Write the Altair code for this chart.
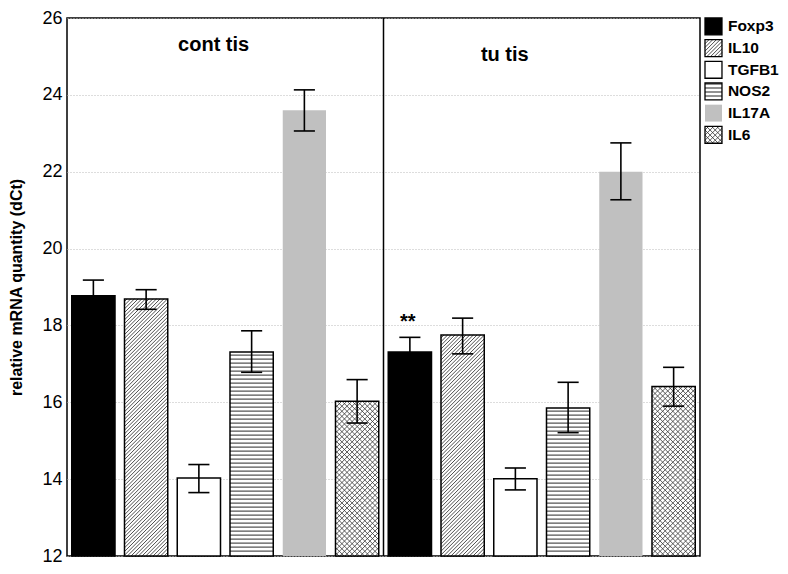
import math
import altair as alt
import pandas as pd

# ---------------- data ----------------
genes = ["Foxp3", "IL10", "TGFB1", "NOS2", "IL17A", "IL6"]
groups = ["cont tis", "tu tis"]
cont_mean = [18.77, 18.69, 14.03, 17.31, 23.60, 16.03]
cont_hi = [19.18, 18.93, 14.38, 17.86, 24.13, 16.59]
cont_lo = [18.36, 18.42, 13.65, 16.78, 23.06, 15.46]
tu_mean = [17.31, 17.75, 14.01, 15.85, 22.00, 16.41]
tu_hi = [17.69, 18.19, 14.29, 16.52, 22.75, 16.91]
tu_lo = [16.93, 17.26, 13.72, 15.21, 21.27, 15.90]
fills = ["#000000", "#ffffff", "#ffffff", "#ffffff", "#c0c0c0", "#ffffff"]
patterns = ["none", "diag", "none", "horiz", "none", "cross"]
y_ticks = [12, 14, 16, 18, 20, 22, 24, 26]
ann_text = ["cont tis", "tu tis", "**"]
ann_x = [2.78, 8.30, 6.46]
ann_y = [25.15, 24.89, 17.94]
divider_x = [6]

# ---------------- layout ----------------
W, H = 633, 538
Y_MIN, Y_MAX = 12, 26
N_SLOTS = len(genes) * len(groups)
SX = W / N_SLOTS
SY = H / (Y_MAX - Y_MIN)
LW, LH = 73, 130
LSX = LW / 4.3
LSY = -LH / len(genes)  # reversed y scale in the legend

FONT = "Liberation Sans"


def hatch(x0, x1, y0, y1, sx, sy, kind, gap):
    """Hatch segments clipped to a rectangle, computed in pixel space."""
    X0, X1 = sorted((x0 * sx, x1 * sx))
    Y0, Y1 = sorted((y0 * sy, y1 * sy))
    segs = []
    if kind == "horiz":
        Y = math.ceil(Y0 / gap) * gap + gap / 2
        while Y < Y1:
            segs.append((X0, Y, X1, Y))
            Y += gap
    if kind in ("diag", "cross"):
        d = gap * math.sqrt(2)
        c = math.ceil((X0 - Y1) / d) * d
        while c < X1 - Y0:
            lo, hi = max(X0, Y0 + c), min(X1, Y1 + c)
            if hi > lo:
                segs.append((lo, lo - c, hi, hi - c))
            c += d
    if kind == "cross":
        d = gap * math.sqrt(2)
        c = math.ceil((X0 + Y0) / d) * d
        while c < X1 + Y1:
            lo, hi = max(X0, c - Y1), min(X1, c - Y0)
            if hi > lo:
                segs.append((lo, c - lo, hi, c - hi))
            c += d
    return [(a / sx, b / sy, e / sx, f / sy) for a, b, e, f in segs]


GAPS = {"diag": 2.6, "horiz": 4.0, "cross": 3.6}

rows, hrows = [], []
for gi, (means, his, los) in enumerate(
    [(cont_mean, cont_hi, cont_lo), (tu_mean, tu_hi, tu_lo)]
):
    for i, g in enumerate(genes):
        pos = gi * len(genes) + i
        x0, x1, c = pos + 0.09, pos + 0.91, pos + 0.5
        rows.append(
            dict(group=groups[gi], gene=g, x0=x0, x1=x1, xc=c,
                 cl=c - 0.2, cr=c + 0.2, mean=means[i], hi=his[i], lo=los[i])
        )
        if patterns[i] != "none":
            for a, b, e, f in hatch(x0, x1, Y_MIN, means[i], SX, SY,
                                    patterns[i], GAPS[patterns[i]]):
                hrows.append(dict(kind=patterns[i], hx=a, hy=b, hx2=e, hy2=f))

df = pd.DataFrame(rows)
hdf = pd.DataFrame(hrows)
ann = pd.DataFrame(dict(text=ann_text, x=ann_x, y=ann_y))
div = pd.DataFrame(dict(x=divider_x))

xs = alt.Scale(domain=[0, N_SLOTS], nice=False, zero=False)
ys = alt.Scale(domain=[Y_MIN, Y_MAX], nice=False, zero=False)

yaxis = alt.Axis(
    values=y_ticks, grid=True, gridDash=[1, 2], gridColor="#bbbbbb",
    ticks=False, domain=False, labelFontSize=18, labelFont=FONT,
    labelColor="black", labelPadding=5,
    title="relative mRNA quantity (dCt)", titleFont=FONT, titleFontSize=16,
    titleFontWeight="bold", titleColor="black", titlePadding=17,
)


def X(field):
    return alt.X(field, type="quantitative", scale=xs, axis=None)


def Y(field):
    return alt.Y(field, type="quantitative", scale=ys, axis=yaxis)


base = alt.Chart(df)

bars = base.mark_rect().encode(
    x=X("x0"), x2="x1", y=Y("mean"), y2=alt.datum(Y_MIN),
    fill=alt.Fill("gene:N", scale=alt.Scale(domain=genes, range=fills), legend=None),
)


def hatch_layer(data, kind, color, width):
    return alt.Chart(data[data["kind"] == kind]).mark_rule(
        color=color, strokeWidth=width, strokeCap="butt"
    ).encode(x=X("hx"), x2="hx2", y=Y("hy"), y2="hy2")


h_diag = hatch_layer(hdf, "diag", "#3a3a3a", 0.9)
h_horiz = hatch_layer(hdf, "horiz", "#555555", 1.4)
h_cross = hatch_layer(hdf, "cross", "#333333", 0.8)

outline = base.transform_filter(alt.datum.gene != "IL17A").mark_rect(
    fillOpacity=0, stroke="black", strokeWidth=1.5
).encode(x=X("x0"), x2="x1", y=Y("mean"), y2=alt.datum(Y_MIN))

err = base.mark_rule(color="black", strokeWidth=1.6).encode(
    x=X("xc"), y=Y("lo"), y2="hi"
)
cap_hi = base.mark_rule(color="black", strokeWidth=1.6).encode(
    x=X("cl"), x2="cr", y=Y("hi")
)
cap_lo = base.mark_rule(color="black", strokeWidth=1.6).encode(
    x=X("cl"), x2="cr", y=Y("lo")
)

divider = alt.Chart(div).mark_rule(color="black", strokeWidth=1.5).encode(
    x=X("x"), y=alt.datum(Y_MIN, scale=ys, axis=yaxis), y2=alt.datum(Y_MAX)
)

labels = alt.Chart(ann).mark_text(
    font=FONT, fontSize=20, fontWeight="bold", color="black",
    align="center", baseline="alphabetic",
).encode(x=X("x"), y=Y("y"), text="text:N")

main = alt.layer(
    bars, h_diag, h_horiz, h_cross, outline, err, cap_hi, cap_lo, divider, labels
).properties(width=W, height=H)

# ---------------- custom patterned legend ----------------
lrows, lhrows = [], []
for i, g in enumerate(genes):
    lrows.append(dict(gene=g, x0=0.0, x1=1.0, y0=i, y1=i + 0.78,
                      ty=i + 0.39, tx=1.35))
    if patterns[i] != "none":
        for a, b, e, f in hatch(0.0, 1.0, i, i + 0.78, LSX, LSY,
                                patterns[i], GAPS[patterns[i]]):
            lhrows.append(dict(kind=patterns[i], hx=a, hy=b, hx2=e, hy2=f))
ldf = pd.DataFrame(lrows)
lhdf = pd.DataFrame(lhrows)

lxs = alt.Scale(domain=[0, 4.3], nice=False, zero=False)
lys = alt.Scale(domain=[0, len(genes)], nice=False, zero=False, reverse=True)


def LX(field):
    return alt.X(field, type="quantitative", scale=lxs, axis=None)


def LY(field):
    return alt.Y(field, type="quantitative", scale=lys, axis=None)


lbase = alt.Chart(ldf)
lsw = lbase.mark_rect().encode(
    x=LX("x0"), x2="x1", y=LY("y0"), y2="y1",
    fill=alt.Fill("gene:N", scale=alt.Scale(domain=genes, range=fills), legend=None),
)


def lhatch(kind, color, width):
    return alt.Chart(lhdf[lhdf["kind"] == kind]).mark_rule(
        color=color, strokeWidth=width, strokeCap="butt"
    ).encode(x=LX("hx"), x2="hx2", y=LY("hy"), y2="hy2")


lout = lbase.transform_filter(alt.datum.gene != "IL17A").mark_rect(
    fillOpacity=0, stroke="black", strokeWidth=1.3
).encode(x=LX("x0"), x2="x1", y=LY("y0"), y2="y1")
ltext = lbase.mark_text(
    font=FONT, fontSize=15.5, fontWeight="bold", color="black",
    align="left", baseline="middle",
).encode(x=LX("tx"), y=LY("ty"), text="gene:N")

legend = alt.layer(
    lsw, lhatch("diag", "#3a3a3a", 0.9), lhatch("horiz", "#555555", 1.3),
    lhatch("cross", "#333333", 0.8), lout, ltext,
).properties(width=LW, height=LH, view=alt.ViewBackground(stroke="transparent"))

chart = alt.hconcat(main, legend, spacing=5, bounds="flush").properties(
    padding=0
).configure_view(stroke="black", strokeWidth=1.5)

chart.save("out.html", embed_options={"renderer": "svg", "actions": False})
